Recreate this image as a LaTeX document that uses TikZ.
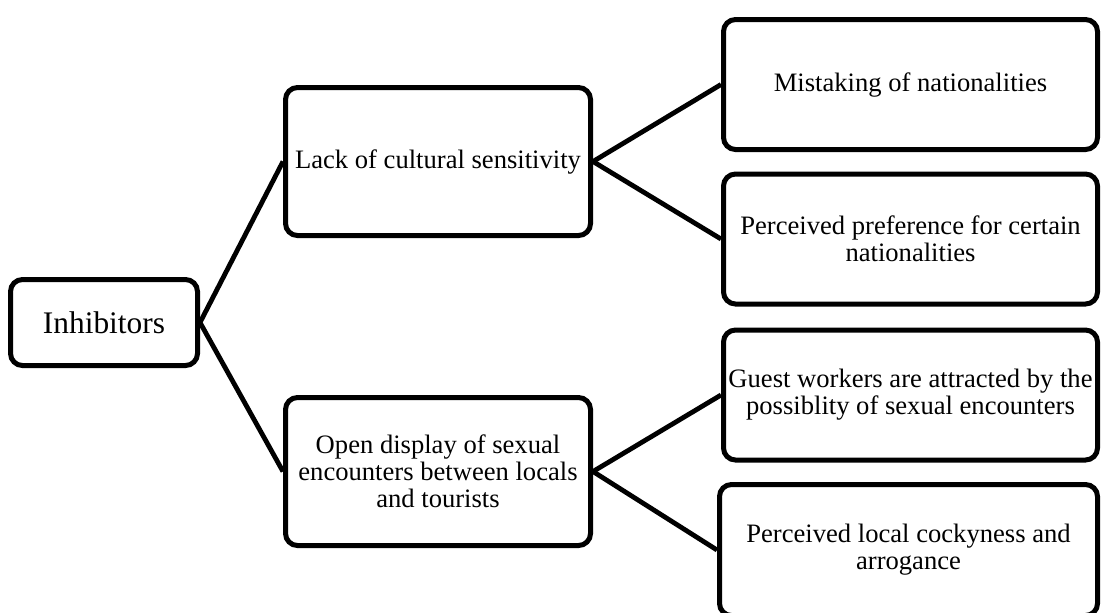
\documentclass[tikz,border=0pt]{standalone}
\usepackage{fontspec}
\setmainfont{Liberation Serif}
\usetikzlibrary{positioning}

\begin{document}
\begin{tikzpicture}[x = 0.5pt, y = -0.5pt,
    box/.style = {draw, line width = 2.5pt, rounded corners = 6pt, inner sep = 0pt,
                  align = center, font = \fontsize{13.3}{13.6}\selectfont},
    mid/.style = {box, minimum width = 152.5pt, minimum height = 74pt},
    leaf/.style = {box, minimum width = 187pt, minimum height = 65pt},
    link/.style = {draw, line width = 2.4pt}]
                \useasboundingbox (0,0) rectangle (1102,612);
                \node[box, minimum width = 93.5pt, minimum height = 43pt,
                      font = \fontsize{15.7}{18}\selectfont] (inhib) at (104,322.5) {Inhibitors};
                \node[mid] (lack) at (438,161.5) {Lack of cultural sensitivity};
                \node[mid] (open) at (438,471.5) {Open display of sexual\\encounters between locals\\and tourists};
                \node[leaf] (mistake) at (910.5,84.5) {Mistaking of nationalities};
                \node[leaf] (pref) at (910.5,239) {Perceived preference for certain\\nationalities};
                \node[leaf] (guest) at (910.5,395) {Guest workers are attracted by the\\possiblity of sexual encounters};
                \node[leaf, minimum width = 189pt, minimum height = 65.5pt] (local) at (908.5,550) {Perceived local cockyness and\\arrogance};
                \path[link] (inhib.east) -- (lack.west);
                \path[link] (inhib.east) -- (open.west);
                \path[link] (lack.east) -- (mistake.west);
                \path[link] (lack.east) -- (pref.west);
                \path[link] (open.east) -- (guest.west);
                \path[link] (open.east) -- (local.west);
            \end{tikzpicture}
\end{document}
